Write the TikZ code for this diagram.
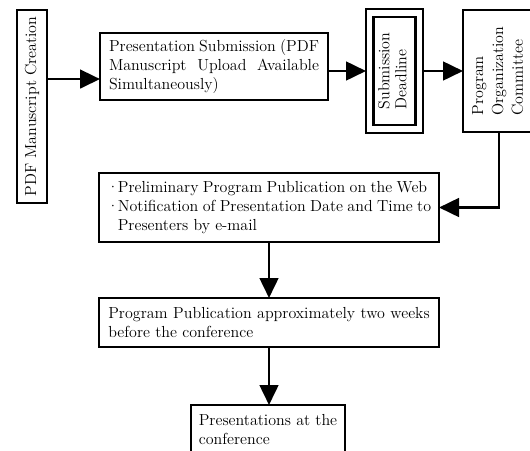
\documentclass[tikz,border=0pt]{standalone}
\usepackage{graphicx}
\usetikzlibrary{arrows.meta}
\begin{document}
\begin{tikzpicture}[x=0.75pt, y=-0.75pt, >={Triangle[length=15pt, width=14pt]}, font=\fontsize{12}{14.25}\selectfont,
	box/.style={draw, line width=2pt, inner sep=0pt, outer sep=0pt, align=left},
	wh/.style 2 args={minimum width=#1*0.75pt, minimum height=#2*0.75pt},
	arr/.style={->, line width=2pt}]
	\useasboundingbox (0,0) rectangle (530,450);
	\clip (0,0) rectangle (530,450);
	% Top row
	\node[box, wh={30}{193}] (pdf) at (32,106.5) {\rotatebox{90}{\makebox[135pt][s]{PDF Manuscript Creation}}};
	\node[box, wh={228}{67}] (sub) at (214,66.5) {\makebox[157.5pt][s]{Presentation Submission (PDF}\\
		\makebox[157.5pt][s]{Manuscript Upload Available}\\Simultaneously)};
	\node[box, wh={57}{124}] (sdlout) at (394.5,71) {};
	\node[box, wh={42}{108}] (sdl) at (sdlout) {\rotatebox{90}{\def\arraystretch{0.9}\begin{tabular}{@{}l@{}}Submission\\Deadline\end{tabular}}};
	\node[box, wh={72}{122}] (comm) at (499,71) {\rotatebox{90}{\def\arraystretch{1.05}\begin{tabular}{@{}l@{}}Program\\Organization\\Committee\end{tabular}}};
	% Lower column
	\node[box, wh={340}{69}] (prelim) at (269,207.5) {\makebox[8.25pt][l]{·}\makebox[232pt][s]{Preliminary Program Publication on the Web}\\
		\makebox[8.25pt][l]{·}\makebox[235pt][s]{Notification of Presentation Date and Time to}\\
		\hspace*{8.25pt}Presenters by e-mail};
	\node[box, wh={340}{49}] (pub) at (269,322.5) {\makebox[241pt][s]{Program Publication approximately two weeks}\\before the conference};
	\node[box, wh={154}{50}] (pres) at (268,430) {Presentations at the\\conference};
	% Arrows
	\coordinate (subin) at ([yshift=-9.4pt]sub.west);
	\draw[arr] (pdf.east |- subin) -- (subin);
	\draw[arr] (sub.east |- sdlout.west) -- (sdlout.west);
	\draw[arr] (sdlout.east) -- (comm.west);
	\draw[arr] (comm.south) |- (prelim.east);
	\draw[arr] (prelim.south) -- (pub.north);
	\draw[arr] (pub.south) -- (pub.south |- pres.north);
\end{tikzpicture}
\end{document}
